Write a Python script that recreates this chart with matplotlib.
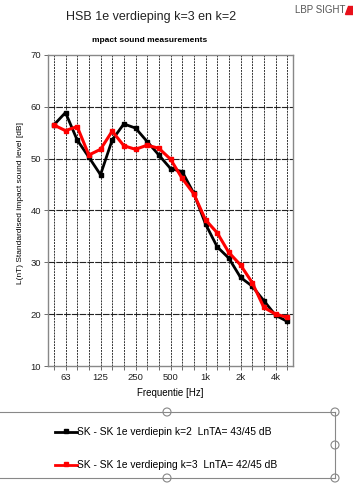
import matplotlib
matplotlib.use("Agg")
import matplotlib.pyplot as plt
from matplotlib.lines import Line2D
from matplotlib.patches import Ellipse, Polygon

plt.rcParams['font.family'] = ['Liberation Sans', 'DejaVu Sans']

freqs = ["50", "63", "80", "100", "125", "160", "200", "250", "315", "400", "500",
         "630", "800", "1000", "1250", "1600", "2000", "2500", "3150", "4000", "5000"]
tick_labels = ["", "63", "", "", "125", "", "", "250", "", "", "500",
               "", "", "1k", "", "", "2k", "", "", "4k", ""]
k2_values = [56.5, 58.9, 53.6, 50.3, 46.9, 53.6, 56.7, 55.9, 53.3, 50.7, 48.1,
             47.5, 43.3, 37.4, 33.0, 30.8, 27.1, 25.4, 22.6, 19.8, 18.6]
k3_values = [56.5, 55.4, 56.2, 50.7, 51.8, 55.3, 52.5, 51.8, 52.6, 52.0, 49.9,
             46.2, 43.2, 38.2, 35.7, 31.9, 29.5, 26.1, 21.3, 20.0, 19.4]
k2_label = "SK - SK 1e verdiepin k=2  LnTA= 43/45 dB"
k3_label = "SK - SK 1e verdieping k=3  LnTA= 42/45 dB"

W, H = 353, 483
fig = plt.figure(figsize=(W / 100, H / 100), dpi=100)
fig.patch.set_facecolor('white')

ax = fig.add_axes([48 / W, 1 - 366 / H, (293 - 48) / W, (366 - 55) / H])
x = list(range(len(freqs)))
ax.plot(x, k2_values, color='black', lw=2.0, marker='s', ms=2.2, zorder=3)
ax.plot(x, k3_values, color='#ff0000', lw=2.2, marker='s', ms=2.2, zorder=4)

ax.set_xlim(-0.5, 20.5)
ax.set_ylim(10, 70)
ax.set_yticks([10, 20, 30, 40, 50, 60, 70])
ax.set_xticks(x)
ax.set_xticklabels(tick_labels)
ax.tick_params(axis='both', labelsize=6.8, length=3, width=0.6, color='#555555', pad=2,
               labelcolor='#222222')
for xi in x:
    ax.axvline(xi, color='#333333', lw=0.7, ls=(0, (2, 1)), zorder=1)
for yv in [20, 30, 40, 50, 60]:
    ax.axhline(yv, color='#222222', lw=0.8, ls=(0, (6, 1)), zorder=1)
for s in ax.spines.values():
    s.set_color('#888888')
    s.set_linewidth(1.0)

ax.set_ylabel("L(nT) Standardised impact sound level [dB]", fontsize=6.0)
ax.yaxis.set_label_coords((24 - 48) / 245, (366 - 203) / 311)
ax.set_xlabel("Frequentie [Hz]", fontsize=7, labelpad=4)

fig.text(151 / W, 1 - 17 / H, "HSB 1e verdieping k=3 en k=2", fontsize=9,
         ha='center', va='center', color='#222222')
fig.text(150 / W, 1 - 41 / H, "mpact sound measurements", fontsize=6.0,
         fontweight='bold', ha='center', va='center')
fig.text(295 / W, 1 - 10 / H, "LBP SIGHT", fontsize=7, ha='left', va='center',
         color='#555555')
fig.add_artist(Polygon([[348 / W, 1 - 6 / H], [353 / W, 1 - 6 / H],
                        [353 / W, 1 - 14 / H], [345 / W, 1 - 14 / H]],
                       closed=True, transform=fig.transFigure, color='#e8101a'))

# legend box
gray = '#888888'
fig.add_artist(Line2D([0, 335 / W], [1 - 412 / H, 1 - 412 / H], transform=fig.transFigure,
                      color=gray, lw=0.8))
fig.add_artist(Line2D([0, 335 / W], [1 - 478 / H, 1 - 478 / H], transform=fig.transFigure,
                      color=gray, lw=0.8))
fig.add_artist(Line2D([335 / W, 335 / W], [1 - 412 / H, 1 - 478 / H], transform=fig.transFigure,
                      color=gray, lw=0.8))
for (cx, cy) in [(167, 412), (335, 412), (335, 445), (167, 478), (335, 478)]:
    fig.add_artist(Ellipse((cx / W, 1 - cy / H), width=8 / W, height=8 / H,
                           transform=fig.transFigure,
                           facecolor='white', edgecolor=gray, lw=0.8))
for yy, col, lab in [(432, 'black', k2_label), (465, '#ff0000', k3_label)]:
    fig.add_artist(Line2D([55 / W, 77 / W], [1 - yy / H, 1 - yy / H], transform=fig.transFigure,
                          color=col, lw=2.0))
    fig.add_artist(Line2D([66 / W], [1 - (yy - 1) / H], transform=fig.transFigure,
                          color=col, marker='s', ms=2.2, lw=0))
    fig.text(77 / W, 1 - yy / H, lab, fontsize=7.4, ha='left', va='center')

fig.savefig("out.png", dpi=100)
